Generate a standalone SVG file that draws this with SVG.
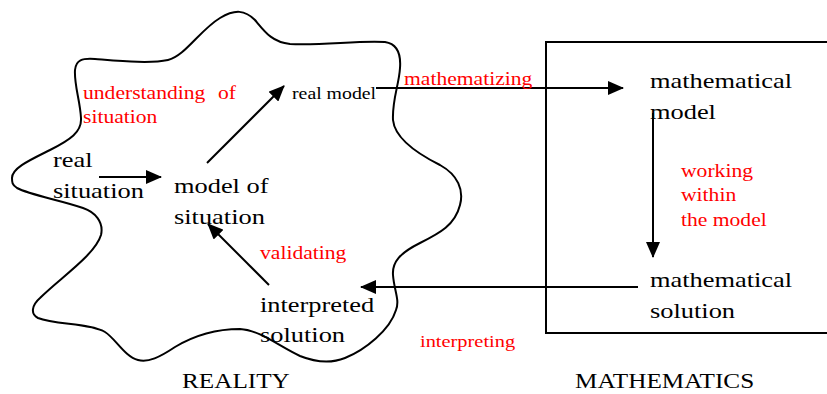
<svg xmlns="http://www.w3.org/2000/svg" width="827" height="394" viewBox="0 0 827 394">
<style>
.t{font-family:"Liberation Serif","Times New Roman",serif;fill:#000;font-size:22px}
.r{font-family:"Liberation Serif","Times New Roman",serif;fill:#ff0000;font-size:18px}
.ln{stroke:#000;stroke-width:2;fill:none}
.c{stroke:#000;stroke-width:2;fill:none;marker-end:url(#ah)}
</style>
<defs>
<marker id="ah" markerUnits="userSpaceOnUse" markerWidth="16" markerHeight="14" refX="15" refY="7" orient="auto">
<path d="M0,0 L16,7 L0,14 Z" fill="#000"/>
</marker>
</defs>
<rect width="827" height="394" fill="#fff"/>
<g id="reality">
<path class="ln" d="M 12,178 C 12,168 30,160 50,150 C 70,140 82,132 81,118 C 80,100 74,85 75,70 C 76,60 82,58 95,59 C 120,61 150,64 168,60 C 185,56 200,30 220,18 C 235,9 245,10 255,20 C 265,32 272,42 290,44 C 320,46 360,40 385,42 C 398,44 401,55 400,68 C 399,85 392,100 393,120 C 395,140 420,155 440,165 C 458,175 464,190 460,205 C 455,225 440,233 420,243 C 400,253 392,262 393,275 C 394,290 400,300 396,310 C 390,330 365,350 345,358 C 330,364 315,362 300,356 C 280,347 260,330 240,329 C 215,329 195,335 175,347 C 160,357 148,363 138,360 C 125,357 115,338 105,332 C 90,323 55,325 38,318 C 30,314 32,305 40,298 C 60,278 95,255 101,235 C 104,222 95,212 83,208 C 60,200 30,195 17,188 C 12,185 12,182 12,178 Z"/>
<text class="t" style="font-size:21px" transform="translate(182,388) scale(1.2,1)">REALITY</text>
</g>
<g id="mathematics">
<path class="ln" d="M 830,42 H 546 V 333 H 830"/>
<text class="t" style="font-size:21px" transform="translate(575,388) scale(1.2,1)">MATHEMATICS</text>
</g>
<g id="real-situation">
<text class="t" transform="translate(53,167) scale(1.2,1)"><tspan x="0" y="0">real</tspan><tspan x="0" y="31">situation</tspan></text>
</g>
<g id="model-of-situation">
<text class="t" transform="translate(174,193) scale(1.2,1)"><tspan x="0" y="0">model of</tspan><tspan x="0" y="31">situation</tspan></text>
</g>
<g id="real-model">
<text class="t" style="font-size:16.5px" transform="translate(292,99) scale(1.2,1)">real model</text>
</g>
<g id="mathematical-model">
<text class="t" transform="translate(650,88) scale(1.2,1)"><tspan x="0" y="0">mathematical</tspan><tspan x="0" y="31">model</tspan></text>
</g>
<g id="mathematical-solution">
<text class="t" transform="translate(650,287) scale(1.2,1)"><tspan x="0" y="0">mathematical</tspan><tspan x="0" y="31">solution</tspan></text>
</g>
<g id="interpreted-solution">
<text class="t" transform="translate(260,312) scale(1.2,1)"><tspan x="0" y="0">interpreted</tspan><tspan x="0" y="30">solution</tspan></text>
</g>
<g id="connectors">
<line class="c" x1="99" y1="177" x2="161" y2="177"/>
<line class="c" x1="207" y1="163" x2="284" y2="86"/>
<line class="c" x1="376" y1="88" x2="623" y2="88"/>
<line class="c" x1="653" y1="113" x2="653" y2="257"/>
<line class="c" x1="638" y1="287" x2="361" y2="287"/>
<line class="c" x1="269" y1="285" x2="208" y2="224"/>
</g>
<g id="labels">
<text class="r" transform="translate(83,99) scale(1.2,1)"><tspan x="0" y="0">understanding</tspan><tspan x="112.5" y="0">of</tspan><tspan x="0" y="24.5">situation</tspan></text>
<text class="r" transform="translate(404,85) scale(1.2,1)">mathematizing</text>
<text class="r" transform="translate(681,177) scale(1.2,1)"><tspan x="0" y="0">working</tspan><tspan x="0" y="24.5">within</tspan><tspan x="0" y="49">the model</tspan></text>
<text class="r" transform="translate(260,259) scale(1.2,1)">validating</text>
<text class="r" style="font-size:17px" transform="translate(420,347) scale(1.2,1)">interpreting</text>
</g>
</svg>
